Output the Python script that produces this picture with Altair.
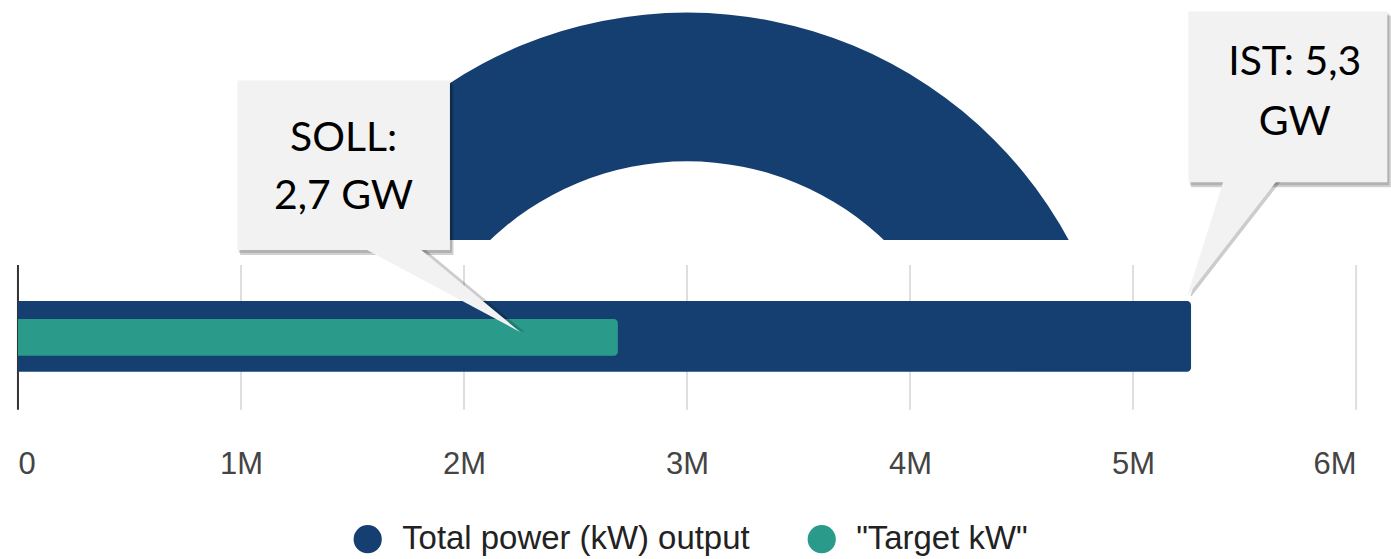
import math
import pandas as pd
import altair as alt

# ---------------- data ----------------
series_names = ["Total power (kW) output", "\"Target kW\""]
series_values_kw = [5_260_000, 2_690_000]          # IST, SOLL
tick_values = [0, 1_000_000, 2_000_000, 3_000_000, 4_000_000, 5_000_000, 6_000_000]
callout_lines = [["SOLL:", "2,7 GW"], ["IST: 5,3", "GW"]]

# ---------------- style / layout ----------------
NAVY = "#153f70"
TEAL = "#2a9a8b"
BOX = "#f2f2f2"
W, H = 1341, 410
xs = alt.Scale(domain=[0, 6_000_000], nice=False, zero=False)
ys = alt.Scale(domain=[0, H], reverse=True, nice=False, zero=False)

AXIS = alt.Axis(
    values=tick_values,
    labelExpr="datum.value == 0 ? '0' : format(datum.value / 1000000, 'd') + 'M'",
    labelFlush=True, domain=False, ticks=False,
    tickSize=0, grid=False, labelPadding=40, labelFontSize=31, labelColor="#444",
    labelFont="Liberation Sans", zindex=1, title=None,
)


def X(f):
    return alt.X(f, type="quantitative", scale=xs, axis=AXIS, title=None)


def Y(f):
    return alt.Y(f, type="quantitative", scale=ys, axis=None, title=None)


# half donut decoration (centre on the 3M line)
arc_df = pd.DataFrame({"x": [3_000_000], "y": [447]})
arc = alt.Chart(arc_df).mark_arc(
    color=NAVY, radius=435, radius2=286, theta=1.5 * math.pi, theta2=2.5 * math.pi
).encode(x=X("x"), y=Y("y"))

cover_df = pd.DataFrame({"x": [1_000_000], "x2": [5_000_000], "y": [240], "y2": [449]})
cover = alt.Chart(cover_df).mark_rect(color="white").encode(
    x=X("x"), x2="x2", y=Y("y"), y2="y2"
)

# grid lines
grid_df = pd.DataFrame({"v": tick_values, "y": [265] * len(tick_values), "y2": [410] * len(tick_values)})
grid = alt.Chart(grid_df).mark_rule(color="#dedede", strokeWidth=2).encode(
    x=X("v"), y=Y("y"), y2="y2"
)
zero_df = pd.DataFrame({"v": [0], "y": [265], "y2": [410]})
zero = alt.Chart(zero_df).mark_rule(color="#333333", strokeWidth=2).encode(
    x=X("v"), y=Y("y"), y2="y2"
)

# bars
bar_df = pd.DataFrame({
    "series": series_names,
    "start": [0, 0],
    "end": series_values_kw,
    "ytop": [301, 319],
    "ybot": [372, 356],
})
bars = alt.Chart(bar_df).mark_rect(cornerRadiusTopRight=4, cornerRadiusBottomRight=4).encode(
    x=X("start"), x2="end", y=Y("ytop"), y2="ybot",
    color=alt.Color(
        "series:N",
        scale=alt.Scale(domain=series_names, range=[NAVY, TEAL]),
        legend=alt.Legend(
            title=None, orient="none", legendX=334, legendY=523, direction="horizontal",
            symbolType="circle", symbolSize=800, symbolStrokeWidth=0, symbolOpacity=1,
            labelFontSize=33, labelFont="Liberation Sans", labelColor="#222",
            labelOffset=18, columnPadding=55, padding=0, labelLimit=0,
        ),
    ),
)

# callouts
box_df = pd.DataFrame({
    "id": ["soll", "ist"],
    "x": [984_000, 5_248_000], "x2": [1_937_000, 6_140_000],
    "y": [80, 11], "y2": [250, 182],
})
shadow_df = box_df.copy()
shadow_df["x"] = shadow_df["x"] + 12_000
shadow_df["x2"] = shadow_df["x2"] + 16_000
shadow_df["y"] = shadow_df["y"] + 4
shadow_df["y2"] = shadow_df["y2"] + 5
shadow = alt.Chart(shadow_df).mark_rect(color="#000", opacity=0.18).encode(
    x=X("x"), x2="x2", y=Y("y"), y2="y2"
)
shadow_df2 = box_df.copy()
shadow_df2["x"] = shadow_df2["x"] + 6_000
shadow_df2["x2"] = shadow_df2["x2"] + 9_000
shadow_df2["y"] = shadow_df2["y"] + 2
shadow_df2["y2"] = shadow_df2["y2"] + 3
shadow2 = alt.Chart(shadow_df2).mark_rect(color="#000", opacity=0.15).encode(
    x=X("x"), x2="x2", y=Y("y"), y2="y2"
)
boxes = alt.Chart(box_df).mark_rect(color=BOX).encode(x=X("x"), x2="x2", y=Y("y"), y2="y2")

ptr_df = pd.DataFrame({
    "id": ["soll", "soll", "ist", "ist"],
    "y": [249, 332, 181, 296],
    "x": [1_557_000, 2_251_000, 5_405_000, 5_243_000],
    "x2": [1_803_000, 2_251_000, 5_643_000, 5_243_000],
})
ptr_sh = ptr_df.copy()
ptr_sh["x"] = ptr_sh["x"] + 14_000
ptr_sh["x2"] = ptr_sh["x2"] + 20_000
ptr_shadow = alt.Chart(ptr_sh).mark_area(orient="horizontal", color="#000", opacity=0.2).encode(
    y=Y("y"), x=X("x"), x2="x2", detail="id:N"
)
pointers = alt.Chart(ptr_df).mark_area(orient="horizontal", color=BOX, opacity=1).encode(
    y=Y("y"), x=X("x"), x2="x2", detail="id:N"
)

text_df = pd.DataFrame({
    "t": callout_lines[0] + callout_lines[1],
    "x": [1_460_000, 1_460_000, 5_725_000, 5_725_000],
    "y": [139, 197, 63, 123],
})
texts = alt.Chart(text_df).mark_text(
    font="Lato", fontSize=41, color="#000", align="center", baseline="middle"
).encode(x=X("x"), y=Y("y"), text="t:N")

chart = alt.layer(
    arc, cover, grid, zero, bars, shadow2, shadow, ptr_shadow, boxes, pointers, texts
).properties(
    width=W, height=H, padding={"left": 17, "top": 0, "right": 0, "bottom": 0},
    background="white",
).configure_view(stroke=None)

chart.save("out.html", embed_options={"renderer": "svg", "actions": False})
